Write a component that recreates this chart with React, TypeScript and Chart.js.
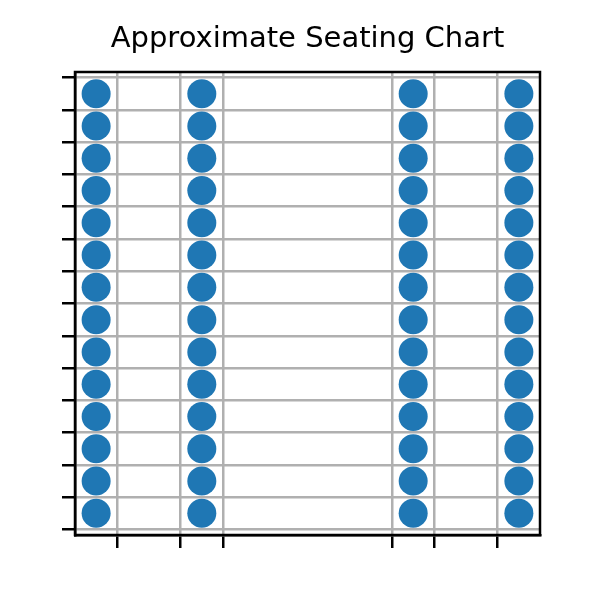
import React, { useEffect, useRef } from "react";
import { Chart, registerables } from "chart.js";

Chart.register(...registerables);

const seatColumns = [0.5, 3, 8, 10.5];
const seatRows = [0, 1, 2, 3, 4, 5, 6, 7, 8, 9, 10, 11, 12, 13];
const xGridTicks = [1, 2.5, 3.5, 7.5, 8.5, 10];
const yGridTicks = [-0.5, 0.5, 1.5, 2.5, 3.5, 4.5, 5.5, 6.5, 7.5, 8.5, 9.5, 10.5, 11.5, 12.5, 13.5];
const titleText = "Approximate Seating Chart";

const frame = {
  id: "frame",
  afterDraw(chart: any) {
    const { ctx, chartArea } = chart;
    ctx.save();
    ctx.strokeStyle = "#000";
    ctx.lineWidth = 2.5;
    ctx.strokeRect(chartArea.left, chartArea.top, chartArea.right - chartArea.left, chartArea.bottom - chartArea.top);
    ctx.restore();
  },
};

export default function App() {
  const ref = useRef<HTMLCanvasElement>(null);
  useEffect(() => {
    document.body.style.margin = "0";
    const points: { x: number; y: number }[] = [];
    seatColumns.forEach((x) => seatRows.forEach((y) => points.push({ x, y })));
    const chart = new Chart(ref.current!, {
      type: "scatter",
      data: {
        datasets: [
          {
            data: points,
            backgroundColor: "#1f77b4",
            borderWidth: 0,
            pointRadius: 14.5,
            pointHoverRadius: 14.5,
          },
        ],
      },
      options: {
        animation: false,
        responsive: false,
        events: [],
        layout: { padding: { left: 62, right: 60, top: 0, bottom: 52 } },
        plugins: {
          legend: { display: false },
          tooltip: { enabled: false },
          title: {
            display: true,
            fullSize: false,
            text: titleText,
            color: "#000",
            font: { family: "DejaVu Sans", size: 29, weight: "normal", lineHeight: 1.2 },
            padding: { top: 22, bottom: 15.2 },
          },
        },
        scales: {
          x: {
            type: "linear",
            min: 0,
            max: 11,
            afterBuildTicks: (s: any) => {
              s.ticks = xGridTicks.map((v) => ({ value: v }));
            },
            ticks: { display: false },
            grid: { color: "#b0b0b0", lineWidth: 2.5, tickColor: "#000", tickWidth: 2.5, tickLength: 13 },
            border: { color: "#000", width: 2.5 },
          },
          y: {
            type: "linear",
            min: -0.67,
            max: 13.67,
            afterBuildTicks: (s: any) => {
              s.ticks = yGridTicks.map((v) => ({ value: v }));
            },
            ticks: { display: false },
            grid: { color: "#b0b0b0", lineWidth: 2.5, tickColor: "#000", tickWidth: 2.5, tickLength: 13 },
            border: { color: "#000", width: 2.5 },
          },
        },
      },
      plugins: [frame],
    });
    return () => chart.destroy();
  }, []);
  return (
    <div style={{ width: 600, height: 600, background: "#fff" }}>
      <canvas ref={ref} width={600} height={600} style={{ display: "block" }} />
    </div>
  );
}
